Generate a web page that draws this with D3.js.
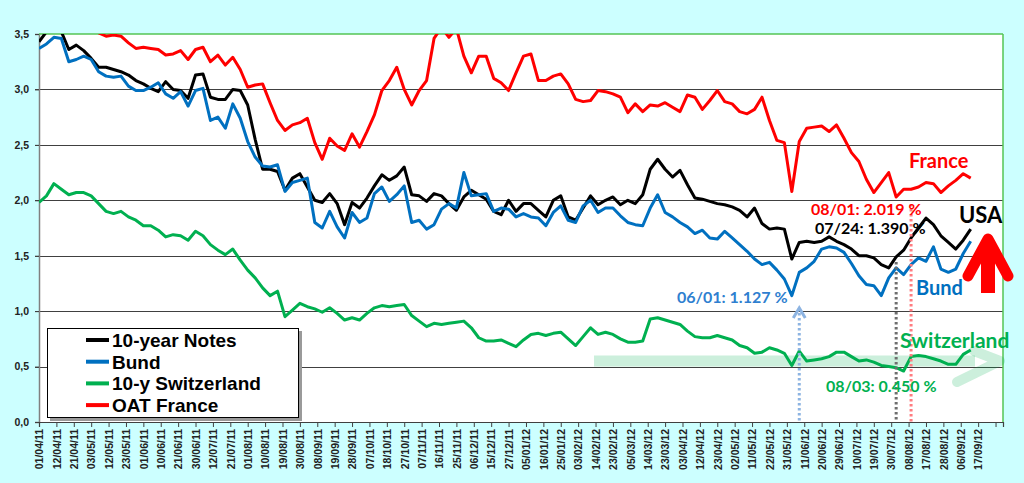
<!DOCTYPE html>
<html><head><meta charset="utf-8">
<script src="https://cdn.jsdelivr.net/npm/d3@7"></script>
<style>
html,body{margin:0;padding:0;background:#ccffff;}
svg{display:block;}
</style></head>
<body>
<svg id="c" width="1024" height="483"></svg>
<script>
// ---- data (sampled every 3 trading days, starting 01/04/11) ----
const dateLabels = ["01/04/11","12/04/11","21/04/11","03/05/11","12/05/11","23/05/11","01/06/11","10/06/11","21/06/11","30/06/11","12/07/11","21/07/11","01/08/11","10/08/11","19/08/11","30/08/11","08/09/11","19/09/11","28/09/11","07/10/11","18/10/11","27/10/11","07/11/11","16/11/11","25/11/11","06/12/11","15/12/11","27/12/11","05/01/12","16/01/12","25/01/12","03/02/12","14/02/12","23/02/12","05/03/12","14/03/12","23/03/12","03/04/12","12/04/12","23/04/12","02/05/12","11/05/12","22/05/12","31/05/12","11/06/12","20/06/12","29/06/12","10/07/12","19/07/12","30/07/12","08/08/12","17/08/12","28/08/12","06/09/12","17/09/12"];
const yTicks = [0,0.5,1.0,1.5,2.0,2.5,3.0,3.5];
const seriesNames = ["10-year Notes","Bund","10-y Switzerland","OAT France"];

const notes10y = [3.43,3.52,3.55,3.52,3.36,3.40,3.35,3.28,3.20,3.20,3.18,3.16,3.13,3.08,3.05,3.01,2.98,3.07,3.00,2.99,
2.92,3.13,3.14,2.93,2.91,2.91,3.00,2.99,2.86,2.55,2.28,2.28,2.26,2.09,2.20,2.24,2.12,2.00,1.98,2.06,
1.97,1.78,1.98,1.93,2.02,2.13,2.23,2.18,2.22,2.30,2.05,2.04,1.99,2.06,2.04,1.97,1.91,2.03,2.09,2.05,
2.01,1.90,1.87,2.00,1.90,1.97,1.97,1.91,1.85,2.00,2.04,1.85,1.82,1.93,2.04,1.96,2.00,2.03,1.96,2.00,
1.97,2.05,2.28,2.37,2.28,2.21,2.27,2.14,2.02,2.01,1.99,1.97,1.96,1.94,1.91,1.85,1.93,1.79,1.74,1.75,
1.74,1.47,1.62,1.63,1.62,1.63,1.67,1.63,1.60,1.56,1.50,1.50,1.48,1.42,1.39,1.49,1.55,1.66,1.75,1.84,
1.78,1.68,1.62,1.56,1.64,1.74];
const bund = [3.37,3.41,3.47,3.46,3.25,3.27,3.30,3.27,3.16,3.12,3.11,3.12,3.03,2.99,2.99,3.02,3.06,2.96,2.92,2.98,
2.85,2.99,3.01,2.72,2.75,2.65,2.87,2.74,2.53,2.39,2.31,2.30,2.32,2.08,2.16,2.18,2.20,1.80,1.75,1.90,
1.76,1.66,1.89,1.80,1.84,2.06,2.12,1.99,2.05,2.13,1.80,1.82,1.74,1.78,1.92,1.97,1.93,2.25,2.04,2.05,
2.06,1.90,1.93,1.92,1.85,1.88,1.85,1.84,1.77,1.89,1.95,1.82,1.80,1.95,2.00,1.89,1.93,1.93,1.86,1.80,
1.78,1.77,1.93,2.05,1.89,1.85,1.80,1.76,1.70,1.73,1.66,1.65,1.72,1.66,1.60,1.54,1.47,1.42,1.44,1.37,
1.29,1.14,1.35,1.39,1.45,1.56,1.58,1.57,1.53,1.43,1.32,1.24,1.23,1.14,1.30,1.39,1.33,1.42,1.48,1.45,
1.58,1.38,1.35,1.38,1.52,1.63];
const swiss10y = [1.98,2.04,2.15,2.10,2.05,2.07,2.07,2.04,1.97,1.90,1.88,1.90,1.85,1.82,1.77,1.77,1.73,1.67,1.69,1.68,
1.64,1.72,1.68,1.60,1.55,1.51,1.56,1.46,1.37,1.30,1.21,1.14,1.18,0.95,1.01,1.07,1.04,1.02,0.99,1.03,
0.98,0.92,0.94,0.92,0.98,1.03,1.05,1.04,1.05,1.06,0.96,0.91,0.86,0.89,0.88,0.89,0.90,0.91,0.85,0.76,
0.73,0.73,0.74,0.71,0.68,0.74,0.79,0.80,0.78,0.80,0.81,0.75,0.69,0.77,0.85,0.79,0.81,0.79,0.75,0.72,
0.72,0.73,0.93,0.94,0.92,0.90,0.88,0.82,0.77,0.76,0.76,0.78,0.76,0.74,0.69,0.67,0.62,0.63,0.67,0.65,
0.62,0.51,0.64,0.55,0.56,0.57,0.59,0.63,0.63,0.59,0.55,0.56,0.54,0.51,0.50,0.49,0.46,0.59,0.60,0.59,
0.57,0.55,0.52,0.52,0.61,0.65];
const oatFrance = [3.60,3.62,3.65,3.63,3.60,3.58,3.60,3.56,3.51,3.48,3.49,3.48,3.42,3.37,3.38,3.37,3.36,3.31,3.32,3.35,
3.27,3.36,3.38,3.25,3.31,3.22,3.29,3.18,3.02,3.04,3.05,2.88,2.72,2.63,2.68,2.70,2.74,2.52,2.37,2.56,
2.49,2.45,2.60,2.48,2.62,2.77,2.99,3.08,3.20,3.00,2.86,2.99,3.08,3.46,3.56,3.47,3.55,3.30,3.15,3.30,
3.30,3.10,3.06,2.99,3.15,3.30,3.32,3.08,3.08,3.12,3.14,3.05,2.91,2.89,2.90,2.99,2.98,2.96,2.93,2.79,
2.87,2.80,2.86,2.85,2.88,2.84,2.80,2.95,2.93,2.82,2.90,2.99,2.89,2.87,2.80,2.78,2.82,2.93,2.72,2.54,
2.52,2.08,2.53,2.65,2.66,2.67,2.62,2.68,2.56,2.43,2.35,2.19,2.07,2.16,2.25,2.03,2.10,2.10,2.12,2.16,
2.15,2.07,2.13,2.18,2.24,2.20];
const sampleStep = 3;      // trading days between samples
const tickStep = 7;        // trading days between axis ticks
const axisDays = 388;      // categories spanned by the axis

// annotations: [day index, text]
const annoBund = {day: 306, value: 1.127, text: "06/01: 1.127 %"};
const annoNotes = {day: 345, value: 1.390, text: "07/24: 1.390 %"};
const annoOat = {day: 351, value: 2.019, text: "08/01: 2.019 %"};
const annoSwiss = {day: 345, value: 0.450, text: "08/03: 0.450 %"};

// ---- chart ----
const svg = d3.select("#c");
const L = 39, R = 1003, T = 34, B = 422;
const x = d3.scaleLinear().domain([0, axisDays]).range([L, R]);
const y = d3.scaleLinear().domain([0, 3.5]).range([B, T]);

svg.append("rect").attr("x",0).attr("y",0).attr("width",1024).attr("height",483).attr("fill","#ccffff");
svg.append("rect").attr("x",L).attr("y",T).attr("width",R-L).attr("height",B-T).attr("fill","#ffffff");

svg.append("defs").append("clipPath").attr("id","clip")
  .append("rect").attr("x",L).attr("y",T).attr("width",R-L).attr("height",B-T);

// gridlines
svg.append("g").selectAll("line").data(yTicks.filter(v=>v>0 && v<3.5)).join("line")
  .attr("x1",L-4).attr("x2",R).attr("y1",d=>Math.round(y(d))+0.5).attr("y2",d=>Math.round(y(d))+0.5)
  .attr("stroke","#404040").attr("stroke-width",1.1);

// y axis
const ya = svg.append("g").attr("transform",`translate(${L},0)`)
  .call(d3.axisLeft(y).tickValues(yTicks).tickSize(4).tickFormat(d=>d.toFixed(1).replace(".",",")));
ya.select(".domain").attr("stroke","#808080").attr("stroke-width",1.5);
ya.selectAll(".tick line").attr("stroke","#404040");
ya.selectAll("text").attr("font-family","Liberation Sans, Arial, sans-serif").attr("font-weight","bold")
  .attr("font-size","10.5px").attr("fill","#222").attr("x",-10);

// x axis
const xTickVals = d3.range(0, axisDays-2, tickStep);
const xa = svg.append("g").attr("transform",`translate(0,${B})`)
  .call(d3.axisBottom(x).tickValues(xTickVals).tickSize(5).tickFormat((d,i)=>dateLabels[i]||""));
xa.select(".domain").attr("stroke","#404040").attr("stroke-width",1.2);
xa.selectAll(".tick line").attr("stroke","#404040");
xa.selectAll("text").attr("transform","rotate(-90)").attr("text-anchor","end")
  .attr("x",-7).attr("y",0).attr("dy","0.36em")
  .attr("font-family","Liberation Sans, Arial, sans-serif").attr("font-weight","bold")
  .attr("font-size","10.5px").attr("fill","#222");

// borders (green top / right)
svg.append("line").attr("x1",L).attr("x2",R).attr("y1",T).attr("y2",T).attr("stroke","#55c455").attr("stroke-width",1.5);
svg.append("line").attr("x1",R).attr("x2",R).attr("y1",T).attr("y2",B).attr("stroke","#55c455").attr("stroke-width",1.5);

// series
const colors = ["#000000","#0070c0","#00b050","#ff0000"];
const series = [notes10y, bund, swiss10y, oatFrance];
const line = d3.line().x((d,i)=>x(i*sampleStep)).y(d=>y(d));
const gl = svg.append("g").attr("clip-path","url(#clip)");
series.forEach((s,i)=>{
  gl.append("path").datum(s).attr("d",line).attr("fill","none")
    .attr("stroke",colors[i]).attr("stroke-width",3).attr("stroke-linejoin","round");
});

// green transparent horizontal arrow
const ga = svg.append("g").attr("fill","none");
ga.append("rect").attr("x",594).attr("y",y(0.6)).attr("width",975-594).attr("height",y(0.5)-y(0.6))
  .attr("fill","rgba(0,176,80,0.2)");
ga.append("path").attr("d","M974,351 L1000,361 L957,382").attr("stroke","rgba(0,176,80,0.2)")
  .attr("stroke-width",10).attr("stroke-linecap","round").attr("stroke-linejoin","round");

// dotted pointers
function pointer(day, yTop, color, head){
  const px = x(day);
  svg.append("line").attr("x1",px).attr("x2",px).attr("y1",yTop).attr("y2",B)
    .attr("stroke",color).attr("stroke-width",3).attr("stroke-dasharray","2.5,2.5");
  if(head){
    svg.append("path").attr("d",`M${px-6},${yTop+10} L${px},${yTop} L${px+6},${yTop+10}`)
      .attr("fill","none").attr("stroke",color).attr("stroke-width",3);
  }
}
pointer(annoBund.day, 308, "#8db4e2", true);
pointer(annoNotes.day, 262, "#6e6e6e", false);
pointer(annoOat.day, 204, "#ff7c80", false);

// red up arrow
svg.append("rect").attr("x",981).attr("y",248).attr("width",14).attr("height",45).attr("fill","#ff0000");
svg.append("path").attr("d","M968,276 L988,239 L1008,276").attr("fill","none").attr("stroke","#ff0000")
  .attr("stroke-width",11).attr("stroke-linecap","round").attr("stroke-linejoin","round");

// annotation texts
const af = "Lato, 'Open Sans', sans-serif";
function txt(tx, ty, t, color, size){
  svg.append("text").attr("x",tx).attr("y",ty).text(t).attr("fill",color)
    .attr("font-family",af).attr("font-weight","bold").attr("font-size",size+"px");
}
txt(811, 215, annoOat.text, "#ff0000", 16);
txt(815, 234, annoNotes.text, "#000000", 16);
txt(677, 303, annoBund.text, "#2f7fd0", 16);
txt(826, 392, annoSwiss.text, "#00b050", 16);
txt(909, 168, "France", "#ff0000", 20);
txt(959, 223, "USA", "#000000", 22);
txt(916, 295, "Bund", "#0070c0", 20);
txt(900, 348, "Switzerland", "#00b050", 21);

// legend
const lg = svg.append("g");
lg.append("rect").attr("x",50).attr("y",331).attr("width",252).attr("height",90).attr("fill","#9a9a9a");
lg.append("rect").attr("x",47.5).attr("y",328.5).attr("width",251).attr("height",89).attr("fill","#fff")
  .attr("stroke","#000").attr("stroke-width",1);
seriesNames.forEach((n,i)=>{
  const cy = 340 + i*21.7;
  lg.append("line").attr("x1",86).attr("x2",109).attr("y1",cy).attr("y2",cy)
    .attr("stroke",colors[i]).attr("stroke-width",4);
  lg.append("text").attr("x",112).attr("y",cy).attr("dy","0.36em").text(n)
    .attr("font-family","Liberation Sans, Arial, sans-serif").attr("font-weight","bold")
    .attr("font-size","19px").attr("fill","#000");
});
</script>
</body></html>
